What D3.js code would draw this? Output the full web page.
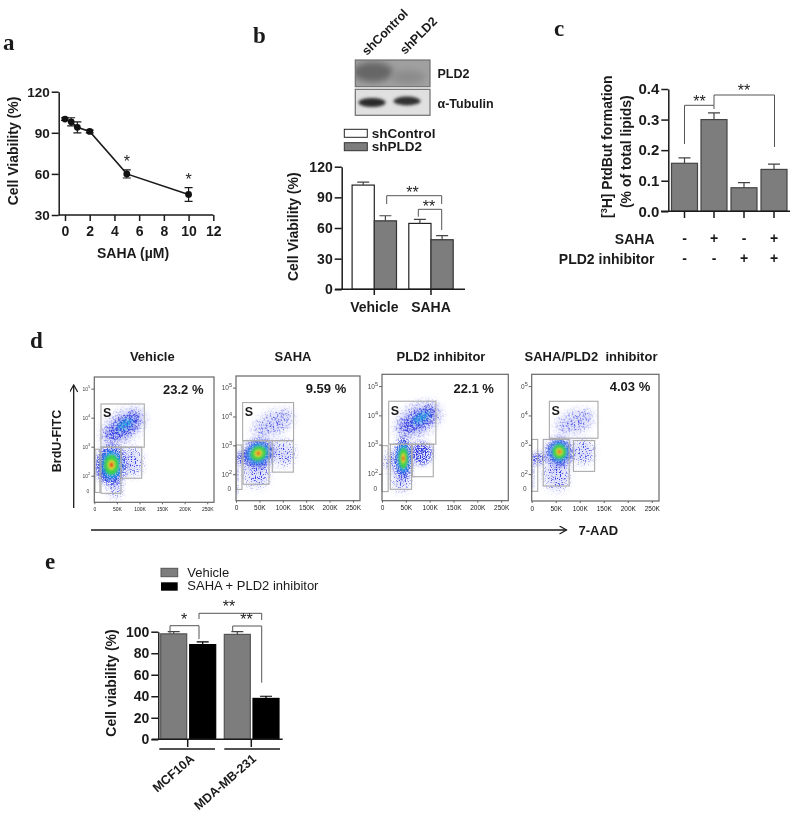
<!DOCTYPE html>
<html><head><meta charset="utf-8">
<script src="https://cdn.jsdelivr.net/npm/d3@7/dist/d3.min.js"></script>
<style>
html,body{margin:0;padding:0;background:#fff}
svg{display:block;filter:blur(0.35px)}
text{font-family:"Liberation Sans",Arial,sans-serif;fill:#1a1a1a}
</style></head><body><svg id="c" width="797" height="814"></svg>
<script>
// ---- panel a
const doseUM=[0,0.5,1,2,5,10];
const doseViability=[100,98,94,91,60,45];
const doseError=[1,3,4,1,3,5];
const doseStars=[5,10];
// ---- panel b
const bGroups=["Vehicle","SAHA"];
const bSeries=["shControl","shPLD2"];
const bControl=[102,64.5];
const bPLD2=[67,48.5];
const bControlErr=[3,4];
const bPLD2Err=[5,4];
// ---- panel c
const cSaha=["-","+","-","+"];
const cInhibitor=["-","-","+","+"];
const cValues=[0.157,0.30,0.077,0.137];
const cErrors=[0.018,0.022,0.017,0.017];
// ---- panel d: gates [x0,x1,logY0,logY1] in K and log10 units
const flowTitles=["Vehicle","SAHA","PLD2 inhibitor","SAHA/PLD2  inhibitor"];
const flowPercents=["23.2 %","9.59 %","22.1 %","4.03 %"];
const flowXTicks=[0,50,100,150,200,250];
const flowYTicks=[2,3,4,5];
const gatesVehicle=[[14.8,110.7,3.0,4.49],[1.5,12.5,1.44,2.93],[14.8,59,1.41,3.0],[59,105,1.93,3.0]];
const gatesSaha=[[14.2,123,3.18,4.5],[0.5,12.8,1.49,3.03],[15,70.5,1.67,3.18],[77.6,122.5,2.09,3.18]];
const gatesInhib=[[14,113,3.03,4.5],[0,13,1.41,2.98],[17.5,62,1.49,3.03],[63.6,107.6,1.92,3.03]];
const gatesCombo=[[36.8,138,3.24,4.5],[0,12.5,1.43,3.2],[24,78,1.61,3.2],[87,131,2.11,3.16]];
// clouds [x, logY, rx, ry, angle, density(0 sparse,1 dense)]
const cloudsVehicle=[[64,3.71,44,.3,-35,1],[64,3.71,54,.48,-35,0],[20,2.33,13,.42,0,1],[46,1.64,13,.38,0,0],[83,2.5,22,.48,0,0]];
const cloudsSaha=[[80,3.78,46,.36,-25,0],[12,2.57,12,.2,0,1],[44,2.05,25,.48,0,0],[101,2.74,22,.42,0,0],[2,1.85,2,.6,0,1]];
const cloudsInhib=[[76,3.86,42,.3,-30,1],[76,3.86,52,.5,-30,0],[20,2.43,15,.32,0,0],[41,1.81,17,.38,0,0],[83,2.72,22,.38,0,1]];
const cloudsCombo=[[90,3.8,40,.34,-20,0],[14,2.55,16,.18,0,1],[52,2.0,25,.52,0,0],[107,2.78,21,.4,0,0],[2,2.0,2,.5,0,1]];
// cyan patches in the busiest S clouds [x, logY, rx, ry, angle]
const patchesVehicle=[[68,3.78,20,.14,-35]];
const patchesInhib=[[82,3.93,20,.14,-30]];
// density peak [x, logY, rx, ry, angle]
const coreVehicle=[38,2.39,28,.6,0];
const coreSaha=[47.7,2.74,30,.42,-30];
const coreInhib=[44.7,2.55,16,.62,0];
const coreCombo=[57.6,2.78,24,.42,-15];
const densityColors=["#1fb0e4","#3ccf50","#e4dc34","#dc3a1e"];
const densityScales=[.8,.58,.3,.13];
// ---- panel e
const eGroups=["MCF10A","MDA-MB-231"];
const eSeries=["Vehicle","SAHA + PLD2 inhibitor"];
const eVehicle=[98,97.5];
const eCombo=[88,38];
const eVehicleErr=[2,2.5];
const eComboErr=[2.5,2];

const svg=d3.select("#c");
const ink="#1a1a1a",barGray="#7d7d7d",line2="#555";
const defs=svg.append("defs");
function speck(id,gain,off,blur){
  const f=defs.append("filter").attr("id",id).attr("x","-40%").attr("y","-40%").attr("width","180%").attr("height","180%").attr("color-interpolation-filters","sRGB");
  f.append("feGaussianBlur").attr("in","SourceGraphic").attr("stdDeviation",blur).attr("result","b");
  f.append("feTurbulence").attr("type","fractalNoise").attr("baseFrequency",.8).attr("numOctaves",2).attr("seed",4).attr("result","n");
  f.append("feColorMatrix").attr("in","n").attr("type","matrix").attr("values",`0 0 0 0 0 0 0 0 0 0 0 0 0 0 0 ${gain} 0 0 0 ${off}`).attr("result","m");
  f.append("feComposite").attr("in","b").attr("in2","m").attr("operator","in");
}
speck("dense",7,-3.0,2.5);speck("sparse",8,-4.4,4);speck("mid",6,-2.2,2);
defs.append("filter").attr("id","haze").attr("x","-40%").attr("y","-40%").attr("width","180%").attr("height","180%").append("feGaussianBlur").attr("stdDeviation",3.5);
defs.append("filter").attr("id","soft").attr("x","-40%").attr("y","-40%").attr("width","180%").attr("height","180%").append("feGaussianBlur").attr("stdDeviation",1.3);
defs.append("filter").attr("id","smear").attr("x","-40%").attr("y","-80%").attr("width","180%").attr("height","260%").append("feGaussianBlur").attr("stdDeviation",3);
defs.append("filter").attr("id","bandblur").attr("x","-40%").attr("y","-80%").attr("width","180%").attr("height","260%").append("feGaussianBlur").attr("stdDeviation",1.6);
const mk=defs.append("marker").attr("id","arrow").attr("markerWidth",10).attr("markerHeight",10).attr("refX",8).attr("refY",4).attr("orient","auto").attr("markerUnits","userSpaceOnUse");
mk.append("path").attr("d","M1,0L8,4L1,8").attr("fill","none").attr("stroke",ink).attr("stroke-width",1.2);

function text(s,x,y,o={}){
  const t=svg.append("text").attr("x",x).attr("y",y).text(s)
    .attr("font-size",o.size||14).attr("font-weight",o.weight||"bold")
    .attr("text-anchor",o.anchor||"start");
  if(o.font)t.style("font-family",o.font);
  if(o.fill)t.style("fill",o.fill);
  if(o.rot!==undefined)t.attr("transform",`rotate(${o.rot},${x},${y})`);
  return t;
}
const serif='"Liberation Serif","Times New Roman",serif';
[["a",3,50],["b",253,43],["c",554,36],["d",30,348],["e",45,569]].forEach(d=>text(d[0],d[1],d[2],{size:23,font:serif}));

function styleAxis(g,size,w){
  g.selectAll("path").attr("stroke",ink).attr("stroke-width",w||1.5);
  g.selectAll("line").attr("stroke",ink).attr("stroke-width",w||1.5);
  g.selectAll("text").attr("font-size",size).attr("font-weight","bold").attr("fill",ink).style("font-family",'"Liberation Sans",Arial,sans-serif');
}
function bracket(pts,color){
  svg.append("path").attr("d",d3.line()(pts)).attr("fill","none").attr("stroke",color||line2).attr("stroke-width",1);
}
function star(s,x,y,size){text(s,x,y,{size:size||16,weight:"normal",anchor:"middle",fill:"#222"});}
function bars(data,color,stroke){
  return function(y){
    data.forEach(d=>{
      svg.append("rect").attr("x",d.x).attr("width",d.w).attr("y",y(d.v)).attr("height",y.range()[0]-y(d.v))
        .attr("fill",color).attr("stroke",stroke).attr("stroke-width",1.2);
      svg.append("path").attr("d",`M${d.x+d.w/2},${y(d.v)}V${y(d.v+d.e)}M${d.x+d.w/2-6},${y(d.v+d.e)}h12`)
        .attr("fill","none").attr("stroke",stroke==="#000"?"#000":"#444").attr("stroke-width",1.2);
    });
  };
}

/* ---------- a ---------- */
{
  const x=d3.scaleLinear().domain([0,12]).range([65,213.3]);
  const y=d3.scaleLinear().domain([30,120]).range([215,91.7]);
  const gx=svg.append("g").attr("transform","translate(0,215)").call(d3.axisBottom(x).tickValues(d3.range(0,13,2)).tickSize(6).tickPadding(5).tickSizeOuter(0));
  gx.select("path").attr("d","M58.7,0H213.3");
  styleAxis(gx,14);
  const gy=svg.append("g").attr("transform","translate(58.7,0)").call(d3.axisLeft(y).tickValues([30,60,90,120]).tickSize(7).tickPadding(2).tickSizeOuter(0));
  styleAxis(gy,13.5);
  svg.append("path").attr("d",d3.line().x((d,i)=>x(doseUM[i])).y(d=>y(d))(doseViability)).attr("fill","none").attr("stroke",ink).attr("stroke-width",1.6);
  doseViability.forEach((v,i)=>{
    const cx=x(doseUM[i]);
    svg.append("path").attr("d",`M${cx},${y(v-doseError[i])}V${y(v+doseError[i])}M${cx-4},${y(v-doseError[i])}h8M${cx-4},${y(v+doseError[i])}h8`).attr("stroke",ink).attr("stroke-width",1.2).attr("fill","none");
    svg.append("circle").attr("cx",cx).attr("cy",y(v)).attr("r",3.4).attr("fill","#111");
  });
  doseStars.forEach(d=>{const i=doseUM.indexOf(d);star("*",x(d),y(doseViability[i]+doseError[i])-3,16);});
  text("Cell Viability (%)",0,0,{anchor:"middle"}).attr("transform","translate(18,151) rotate(-90)");
  const sl=text("SAHA (",97,258,{size:14});
  sl.append("tspan").text("µ");
  sl.append("tspan").text("M)");
}
/* ---------- b ---------- */
{
  const y=d3.scaleLinear().domain([0,120]).range([289.3,166.7]);
  const gx=[374.3,431];
  const W=22.2;
  const gy=svg.append("g").attr("transform","translate(341.7,0)").call(d3.axisLeft(y).tickValues([0,30,60,90,120]).tickSize(7).tickPadding(2).tickSizeOuter(0));
  styleAxis(gy,14);
  bars(bControl.map((v,i)=>({x:gx[i]-W,w:W,v,e:bControlErr[i]})),"#fff","#222")(y);
  bars(bPLD2.map((v,i)=>({x:gx[i],w:W,v,e:bPLD2Err[i]})),barGray,"#333")(y);
  svg.append("path").attr("d","M335,289.3H465M374.3,289.3V295M431,289.3V295").attr("stroke",ink).attr("stroke-width",1.5).attr("fill","none");
  bGroups.forEach((s,i)=>text(s,gx[i],311.5,{size:14,anchor:"middle"}));
  bracket([[386.7,204],[386.7,195.7],[441.7,195.7],[441.7,204]]);
  bracket([[418.3,216.7],[418.3,209.3],[441.7,209.3],[441.7,230]]);
  star("**",412.5,198);star("**",429,212);
  svg.append("rect").attr("x",344.3).attr("y",129.3).attr("width",23).attr("height",8).attr("fill","#fff").attr("stroke","#222");
  svg.append("rect").attr("x",344.3).attr("y",142.7).attr("width",23).attr("height",8).attr("fill",barGray).attr("stroke","#333");
  bSeries.forEach((s,i)=>text(s,371.7,138+i*13.4,{size:13.5}));
  text("Cell Viability (%)",0,0,{anchor:"middle"}).attr("transform","translate(298,226.7) rotate(-90)");
  // blot
  defs.append("clipPath").attr("id","blot1").append("rect").attr("x",355.3).attr("y",60).attr("width",74.7).attr("height",26.7);
  defs.append("clipPath").attr("id","blot2").append("rect").attr("x",355.3).attr("y",89.3).attr("width",74.7).attr("height",26);
  const b1=svg.append("g").attr("clip-path","url(#blot1)"),b2=svg.append("g").attr("clip-path","url(#blot2)");
  b1.append("rect").attr("x",355.3).attr("y",60).attr("width",74.7).attr("height",26.7).attr("fill","#a0a0a0");
  b2.append("rect").attr("x",355.3).attr("y",89.3).attr("width",74.7).attr("height",26).attr("fill","#e0e0e0");
  [[b1,373,72,20,10,"#666","smear"],[b1,408,77,17,7,"#8c8c8c","smear"],[b2,372,102.5,13.5,4.6,"#2c2c2c","bandblur"],[b2,407,101,13.5,4.4,"#333","bandblur"]].forEach(b=>{
    b[0].append("ellipse").attr("cx",b[1]).attr("cy",b[2]).attr("rx",b[3]).attr("ry",b[4]).attr("fill",b[5]).attr("filter",`url(#${b[6]})`);
  });
  svg.append("rect").attr("x",355.3).attr("y",60).attr("width",74.7).attr("height",26.7).attr("fill","none").attr("stroke","#6e6e6e").attr("stroke-width",1.2);
  svg.append("rect").attr("x",355.3).attr("y",89.3).attr("width",74.7).attr("height",26).attr("fill","none").attr("stroke","#6e6e6e").attr("stroke-width",1.2);
  text("PLD2",437.5,78,{size:12.5});
  text("α-Tubulin",437.5,108,{size:12.5});
  text("shControl",367,56,{size:12.5,rot:-45});
  text("shPLD2",405,55,{size:12.5,rot:-45});
}
/* ---------- c ---------- */
{
  const y=d3.scaleLinear().domain([0,0.4]).range([211.3,89]);
  const cx=[684.5,714,744,774];
  const W=26;
  const gy=svg.append("g").attr("transform","translate(668.3,0)").call(d3.axisLeft(y).tickValues([0,.1,.2,.3,.4]).tickFormat(d3.format(".1f")).tickSize(7).tickPadding(2).tickSizeOuter(0));
  styleAxis(gy,15);
  bars(cValues.map((v,i)=>({x:cx[i]-W/2,w:W,v,e:cErrors[i]})),barGray,"#444")(y);
  svg.append("path").attr("d","M661,211.3H790"+cx.map(c=>`M${c},211.3V218`).join("")).attr("stroke",ink).attr("stroke-width",1.5).attr("fill","none");
  bracket([[684.5,144],[684.5,105.3],[714,105.3],[714,109]]);
  bracket([[714,105],[714,95],[774.5,95],[774.5,147]]);
  star("**",699.5,106.5);star("**",744,95.5);
  const sw=(arr,yy)=>arr.forEach((s,i)=>text(s==="-"?"-":"+",cx[i],yy,{size:14,anchor:"middle"}));
  sw(cSaha,243);sw(cInhibitor,263);
  text("SAHA",654.5,244,{size:14,anchor:"end"});
  text("PLD2 inhibitor",654.5,263.5,{size:14,anchor:"end"});
  const l=text("[",0,0,{size:14,anchor:"middle"}).attr("transform","translate(612,146.7) rotate(-90)");
  l.append("tspan").text("3").attr("font-size",9).attr("dy",-5);
  l.append("tspan").text("H] PtdBut formation").attr("dy",5);
  text("(% of total lipids)",0,0,{size:14,anchor:"middle"}).attr("transform","translate(631,151.7) rotate(-90)");
}
/* ---------- d ---------- */
{
  const boxes=[[94.3,214,377,502.3],[236,360,376,500.7],[382,508.3,374.3,500.7],[531.7,659,374.3,501]];
  const gates=[gatesVehicle,gatesSaha,gatesInhib,gatesCombo];
  const clouds=[cloudsVehicle,cloudsSaha,cloudsInhib,cloudsCombo];
  const patches=[patchesVehicle,[],patchesInhib,[]];
  const cores=[coreVehicle,coreSaha,coreInhib,coreCombo];
  const titleX=[152.3,293,441,591],pctX=[183.3,326,473.7,630],pctY=[394,393,393,391];
  const labelSize=[5,6.5,6.5,6.5];
  boxes.forEach((b,k)=>{
    const x=d3.scaleLinear().domain([0,265]).range([b[0],b[1]]);
    const y=d3.scaleLinear().domain([1.1,5.42]).range([b[3],b[2]]);
    const cid="clip"+k;
    defs.append("clipPath").attr("id",cid).append("rect").attr("x",b[0]).attr("y",b[2]).attr("width",b[1]-b[0]).attr("height",b[3]-b[2]);
    const g=svg.append("g").attr("clip-path",`url(#${cid})`);
    const ell=(c,sc,sel)=>sel.append("ellipse").attr("rx",(x(c[2])-x(0))*sc).attr("ry",(y(0)-y(c[3]))*sc)
        .attr("transform",`translate(${x(c[0])},${y(c[1])}) rotate(${c[4]})`);
    clouds[k].forEach(c=>ell(c,1,g).attr("fill","#c4c8f6").attr("opacity",.55).attr("filter","url(#haze)"));
    clouds[k].forEach(c=>ell(c,1,g).attr("fill","#3038e0").attr("filter",c[5]?"url(#dense)":"url(#sparse)"));
    patches[k].forEach(c=>ell(c,1,g).attr("fill","#1fa8e0").attr("filter","url(#mid)"));
    const core=cores[k];
    ell(core,1.2,g).attr("fill","#3038e0").attr("filter","url(#dense)");
    ell(core,.95,g).attr("fill","#3a50e6").attr("opacity",.45).attr("filter","url(#soft)");
    densityColors.forEach((col,i)=>ell(core,densityScales[i],g).attr("fill",col).attr("filter",i===0?"url(#mid)":"url(#soft)"));
    gates[k].forEach(q=>{
      svg.append("rect").attr("x",x(q[0])).attr("y",y(q[3])).attr("width",x(q[1])-x(q[0])).attr("height",y(q[2])-y(q[3]))
        .attr("fill","none").attr("stroke","#aaa").attr("stroke-width",1.1);
    });
    svg.append("rect").attr("x",b[0]).attr("y",b[2]).attr("width",b[1]-b[0]).attr("height",b[3]-b[2]).attr("fill","none").attr("stroke","#666").attr("stroke-width",1.2);
    const ax=svg.append("g").attr("transform",`translate(0,${b[3]})`).call(d3.axisBottom(x).tickValues(flowXTicks).tickFormat(d=>d?d+"K":"0").tickSize(2).tickPadding(3));
    ax.select("path").remove();
    ax.selectAll("line").attr("stroke","#666");
    ax.selectAll("text").attr("font-size",labelSize[k]).attr("fill","#555");
    const labs=svg.append("g");
    if(k===3){defs.append("clipPath").attr("id","clipLab").append("rect").attr("x",b[0]-11).attr("y",b[2]).attr("width",30).attr("height",b[3]-b[2]);labs.attr("clip-path","url(#clipLab)");}
    flowYTicks.forEach(t=>{
      labs.append("line").attr("x1",b[0]-3).attr("x2",b[0]).attr("y1",y(t)).attr("y2",y(t)).attr("stroke","#666");
      const tx=labs.append("text").attr("x",b[0]-4).attr("y",y(t)+2).attr("text-anchor","end").attr("font-size",labelSize[k]).style("fill","#444").text("10");
      tx.append("tspan").text(t).attr("dy",-3).attr("font-size",labelSize[k]-1);
    });
    labs.append("text").attr("x",b[0]-5).attr("y",y(1.5)+2).attr("text-anchor","end").attr("font-size",labelSize[k]).style("fill","#444").text("0");
    text("S",x(gates[k][0][0])+2,y(4.1)+2,{size:12.5});
    text(flowTitles[k],titleX[k],361,{size:13,anchor:"middle"}).style("white-space","pre");
    text(flowPercents[k],pctX[k],pctY[k],{size:13,anchor:"middle"});
  });
  svg.append("path").attr("d","M73.7,508V385").attr("stroke",ink).attr("stroke-width",1.3).attr("marker-end","url(#arrow)").attr("fill","none");
  svg.append("path").attr("d","M91,530H566.5").attr("stroke",ink).attr("stroke-width",1.3).attr("marker-end","url(#arrow)").attr("fill","none");
  text("BrdU-FITC",0,0,{size:12.5,anchor:"middle"}).attr("transform","translate(61,441) rotate(-90)");
  text("7-AAD",578.5,535,{size:13});
}
/* ---------- e ---------- */
{
  const y=d3.scaleLinear().domain([0,100]).range([739.3,631.7]);
  const gy=svg.append("g").attr("transform","translate(158.3,0)").call(d3.axisLeft(y).tickValues(d3.range(0,101,20)).tickSize(7).tickPadding(2).tickSizeOuter(0));
  styleAxis(gy,14);
  bars(eVehicle.map((v,i)=>({x:[160.7,224.3][i],w:26,v,e:eVehicleErr[i]})),barGray,"#555")(y);
  bars(eCombo.map((v,i)=>({x:[189.7,253][i],w:26,v,e:eComboErr[i]})),"#000","#000")(y);
  svg.append("path").attr("d","M151.7,739.3H282.7M187.7,739.3V747M251.3,739.3V747").attr("stroke",ink).attr("stroke-width",1.5).attr("fill","none");
  svg.append("path").attr("d","M159.3,749H215M224.3,749H280").attr("stroke",ink).attr("stroke-width",1.3).attr("fill","none");
  eGroups.forEach((s,i)=>text(s,[195,257][i],760,{size:12.5,anchor:"end",rot:-41}));
  bracket([[170,634],[170,625.7],[199,625.7],[199,639]]);
  bracket([[199,619],[199,613.3],[261.7,613.3],[261.7,620]]);
  bracket([[232.7,631.7],[232.7,626],[261.7,626],[261.7,682.7]]);
  star("*",184,625);star("**",229,611.5);star("**",246.5,625);
  svg.append("rect").attr("x",161).attr("y",568.3).attr("width",16.7).attr("height",8.4).attr("fill",barGray).attr("stroke","#555");
  svg.append("rect").attr("x",161).attr("y",582.3).attr("width",16.7).attr("height",8.4).attr("fill","#000");
  eSeries.forEach((s,i)=>text(s,187.3,[576.5,590][i],{size:13,weight:"normal"}));
  text("Cell viability (%)",0,0,{anchor:"middle"}).attr("transform","translate(116,683) rotate(-90)");
}
</script></body></html>
